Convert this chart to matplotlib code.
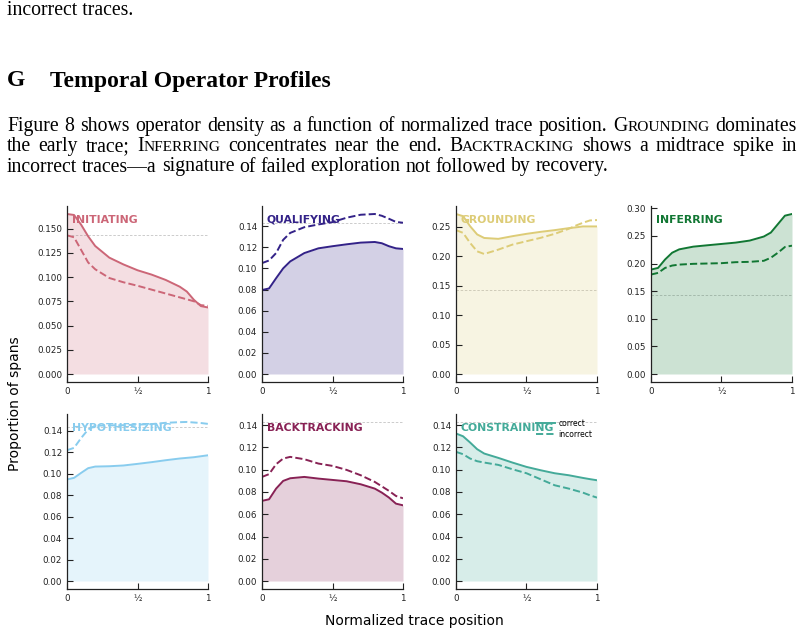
import matplotlib
matplotlib.use("Agg")
import matplotlib.pyplot as plt
from matplotlib.ticker import MultipleLocator

# normalized trace position (x) shared by every panel
positions = [0, 0.05, 0.1, 0.15, 0.2, 0.3, 0.4, 0.5, 0.6, 0.7, 0.8, 0.85, 0.9, 0.95, 1.0]

operators = ["INITIATING", "QUALIFYING", "GROUNDING", "INFERRING",
             "HYPOTHESIZING", "BACKTRACKING", "CONSTRAINING"]
colors = ["#CC6677", "#332288", "#DDCC77", "#117733", "#88CCEE", "#882255", "#44AA99"]
tick_steps = [0.025, 0.02, 0.05, 0.05, 0.02, 0.02, 0.02]

# proportion of spans, correct vs incorrect traces
initiating_correct = [0.165, 0.164, 0.154, 0.142, 0.132, 0.120, 0.113, 0.107, 0.1025, 0.097, 0.090, 0.085, 0.0765, 0.070, 0.0686]
initiating_incorrect = [0.143, 0.141, 0.128, 0.115, 0.108, 0.099, 0.0946, 0.091, 0.087, 0.083, 0.079, 0.077, 0.075, 0.071, 0.0703]
qualifying_correct = [0.0795, 0.081, 0.0907, 0.100, 0.1066, 0.1145, 0.119, 0.121, 0.1228, 0.1244, 0.125, 0.1238, 0.121, 0.119, 0.1184]
qualifying_incorrect = [0.105, 0.1075, 0.1145, 0.127, 0.1336, 0.139, 0.1416, 0.1438, 0.148, 0.1508, 0.1515, 0.1498, 0.147, 0.144, 0.1432]
grounding_correct = [0.2717, 0.268, 0.251, 0.237, 0.231, 0.2295, 0.234, 0.238, 0.2414, 0.2443, 0.2477, 0.249, 0.2506, 0.2506, 0.2506]
grounding_incorrect = [0.2443, 0.2397, 0.2226, 0.2083, 0.2038, 0.2112, 0.2197, 0.2255, 0.2312, 0.238, 0.2466, 0.252, 0.2568, 0.2608, 0.2614]
inferring_correct = [0.189, 0.192, 0.2073, 0.2195, 0.2256, 0.2305, 0.233, 0.2354, 0.2378, 0.2415, 0.2488, 0.256, 0.2713, 0.2866, 0.2896]
inferring_incorrect = [0.180, 0.183, 0.192, 0.1963, 0.198, 0.1994, 0.200, 0.2006, 0.2024, 0.203, 0.2049, 0.2104, 0.2195, 0.2299, 0.2323]
hypothesizing_correct = [0.0945, 0.096, 0.1006, 0.105, 0.1065, 0.1068, 0.1075, 0.109, 0.1106, 0.1124, 0.114, 0.1146, 0.1152, 0.1161, 0.117]
hypothesizing_incorrect = [0.1217, 0.1239, 0.133, 0.141, 0.1446, 0.1448, 0.145, 0.1455, 0.146, 0.1472, 0.1478, 0.148, 0.1475, 0.147, 0.1462]
backtracking_correct = [0.072, 0.0734, 0.083, 0.0899, 0.0923, 0.0935, 0.092, 0.0908, 0.0896, 0.0869, 0.083, 0.0794, 0.075, 0.0695, 0.068]
backtracking_incorrect = [0.0935, 0.096, 0.1049, 0.110, 0.1115, 0.1094, 0.1055, 0.1034, 0.0998, 0.095, 0.089, 0.085, 0.081, 0.0764, 0.0743]
constraining_correct = [0.1325, 0.130, 0.1244, 0.1184, 0.1145, 0.1106, 0.1064, 0.1025, 0.0995, 0.0968, 0.095, 0.0938, 0.0926, 0.0915, 0.0905]
constraining_incorrect = [0.116, 0.1139, 0.110, 0.1076, 0.1064, 0.1043, 0.1004, 0.0968, 0.0914, 0.086, 0.083, 0.0812, 0.0794, 0.077, 0.0749]

correct = [initiating_correct, qualifying_correct, grounding_correct, inferring_correct,
           hypothesizing_correct, backtracking_correct, constraining_correct]
incorrect = [initiating_incorrect, qualifying_incorrect, grounding_incorrect, inferring_incorrect,
             hypothesizing_incorrect, backtracking_incorrect, constraining_incorrect]

W, H = 804, 636
fig = plt.figure(figsize=(W / 100, H / 100), dpi=100)
renderer = fig.canvas.get_renderer()

SERIF = "Liberation Serif"
BODY = 14.2


# ---- paper text around the figure ----
def put(x, y, s, size, **kw):
    return fig.text(x / W, 1 - y / H, s, fontsize=size, family=SERIF,
                    va="baseline", ha="left", **kw)


def words_of(s):
    return [[(w, 1.0)] for w in s.split()]


def sc(word):
    # small caps: first letter full size, rest smaller
    return [[(word[0], 1.0), (word[1:], 0.78)]]


def text_line(words, x0, y, size, x1=None):
    placed = []
    for word in words:
        parts = []
        for s, scale in word:
            t = put(0, y, s, size * scale)
            parts.append((t, t.get_window_extent(renderer).width))
        placed.append(parts)
    widths = [sum(w for _, w in parts) for parts in placed]
    space = 0.25 * size * 100 / 72
    if x1 is not None:
        space = (x1 - x0 - sum(widths)) / (len(words) - 1)
    x = x0
    for parts in placed:
        for t, w in parts:
            t.set_x(x / W)
            x += w
        x += space


put(7, 15, "incorrect traces.", BODY)
put(7, 86.5, "G", 17.0, fontweight="bold")
put(50, 86.5, "Temporal Operator Profiles", 17.0, fontweight="bold")

text_line(words_of("Figure 8 shows operator density as a function of normalized trace position.")
          + sc("GROUNDING") + words_of("dominates"), 7, 131, BODY, 797)
text_line(words_of("the early trace;") + sc("INFERRING")
          + words_of("concentrates near the end.") + sc("BACKTRACKING")
          + words_of("shows a midtrace spike in"), 7, 151, BODY, 797)
text_line(words_of("incorrect traces\u2014a signature of failed exploration not followed by recovery."),
          7, 171.5, BODY)

# ---- panels ----
lefts = [67, 262, 456, 651, 67, 262, 456]
rows = [(206, 382), (206, 382), (206, 382), (206, 382), (414, 589), (414, 589), (414, 589)]

for i in range(7):
    top, bottom = rows[i]
    ax = fig.add_axes([lefts[i] / W, 1 - bottom / H, 141 / W, (bottom - top) / H])
    c = colors[i]
    ax.fill_between(positions, 0, correct[i], color=c, alpha=0.21, lw=0)
    ax.plot(positions, correct[i], color=c, lw=1.4, label="correct")
    ax.plot(positions, incorrect[i], color=c, lw=1.4, ls="--", label="incorrect")
    ax.axhline(1 / 7, color="#c4c4c4", lw=0.6, ls=(0, (3, 2)), zorder=0.5)
    ax.set_xlim(0, 1)
    ax.set_xticks([0, 0.5, 1])
    ax.set_xticklabels(["0", "\u00bd", "1"])
    ax.yaxis.set_major_locator(MultipleLocator(tick_steps[i]))
    for side in ["top", "right"]:
        ax.spines[side].set_visible(False)
    for side in ["left", "bottom"]:
        ax.spines[side].set_linewidth(0.9)
        ax.spines[side].set_color("#222222")
    ax.tick_params(direction="in", length=4, width=0.8, labelsize=6.3,
                   colors="#222222", pad=3.5)
    ax.text(0.035, 0.95, operators[i], transform=ax.transAxes, color=c,
            fontweight="bold", fontsize=7.8, va="top", ha="left", zorder=5)
    if operators[i] == "CONSTRAINING":
        ax.legend(loc="upper right", frameon=False, fontsize=5.5, handlelength=2.5,
                  borderaxespad=0.2, labelspacing=0.3, handletextpad=0.4)

fig.text(414 / W, 1 - 621 / H, "Normalized trace position", ha="center", va="center", fontsize=10)
fig.text(15 / W, 1 - 404 / H, "Proportion of spans", ha="center", va="center",
         rotation=90, fontsize=10)

fig.savefig("out.png", dpi=100)
